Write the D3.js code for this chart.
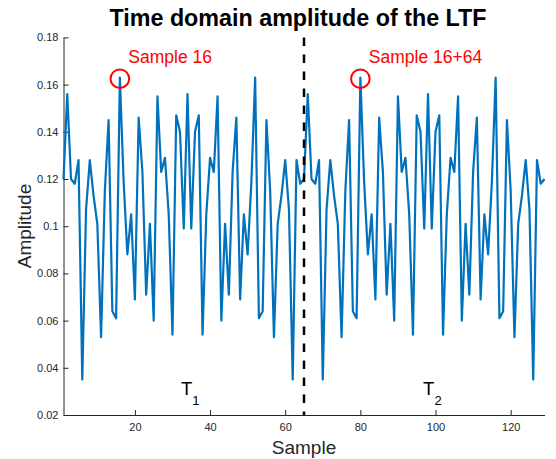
<!DOCTYPE html>
<html><head><meta charset="utf-8">
<script src="https://cdn.jsdelivr.net/npm/d3@7"></script>
<style>body{margin:0;background:#fff;} svg{display:block;font-family:"Liberation Sans",Arial,sans-serif;}</style>
</head><body>
<svg id="c" width="556" height="459"></svg>
<script>
// Amplitude of LTF samples 1..129
const amplitude = [
 0.120,
 0.156,0.120,0.118,0.128,0.035,0.107,0.128,0.113,0.101,0.053,0.115,0.145,0.064,0.061,0.163,0.119,
 0.088,0.105,0.069,0.146,0.123,0.071,0.101,0.060,0.155,0.123,0.129,0.105,0.054,0.147,0.140,0.099,
 0.156,0.099,0.140,0.147,0.054,0.105,0.129,0.123,0.155,0.060,0.101,0.071,0.123,0.146,0.069,0.105,
 0.088,0.119,0.163,0.061,0.064,0.145,0.115,0.053,0.101,0.113,0.128,0.107,0.035,0.128,0.118,0.120,
 0.156,0.120,0.118,0.128,0.035,0.107,0.128,0.113,0.101,0.053,0.115,0.145,0.064,0.061,0.163,0.119,
 0.088,0.105,0.069,0.146,0.123,0.071,0.101,0.060,0.155,0.123,0.129,0.105,0.054,0.147,0.140,0.099,
 0.156,0.099,0.140,0.147,0.054,0.105,0.129,0.123,0.155,0.060,0.101,0.071,0.123,0.146,0.069,0.105,
 0.088,0.119,0.163,0.061,0.064,0.145,0.115,0.053,0.101,0.113,0.128,0.107,0.035,0.128,0.118,0.120
];
const xTicks = [20,40,60,80,100,120];
const yTicks = [0.02,0.04,0.06,0.08,0.1,0.12,0.14,0.16,0.18];
const xDomain = [1,129];
const yDomain = [0.02,0.18];
const divider = 65;
const markers = [{x:16, y:0.1625, label:"Sample 16"},{x:80, y:0.1625, label:"Sample 16+64"}];
const periods = [{x:32.25, sub:"1"},{x:96.7, sub:"2"}];
const titleText = "Time domain amplitude of the LTF";

const svg = d3.select("#c");
const x = d3.scaleLinear().domain(xDomain).range([63.5,544.5]);
const y = d3.scaleLinear().domain(yDomain).range([415,37.4]);
const axisColor = "#262626";

// axes
const gx = svg.append("g").attr("transform","translate(0,415)")
  .call(d3.axisBottom(x).tickValues(xTicks).tickSizeInner(-5).tickSizeOuter(0).tickPadding(8));
const gy = svg.append("g").attr("transform","translate(63.5,0)")
  .call(d3.axisLeft(y).tickValues(yTicks).tickSizeInner(-5).tickSizeOuter(0).tickPadding(5)
    .tickFormat(d=>d3.format("")(+d.toFixed(2))));
[gx,gy].forEach(g=>{
  g.select(".domain").attr("stroke",axisColor).attr("stroke-width",1);
  g.selectAll(".tick line").attr("stroke",axisColor);
  g.selectAll(".tick text").attr("fill",axisColor).style("font-size","11px")
   .style("font-family","'Liberation Sans',Arial,sans-serif");
});
gx.selectAll(".tick text").attr("dy","0.71em");

// data line
const line = d3.line().x((d,i)=>x(i+1)).y(d=>y(d));
svg.append("path").datum(amplitude).attr("d",line)
  .attr("fill","none").attr("stroke","#0072BD").attr("stroke-width",2.2).attr("stroke-linejoin","round");

// divider
svg.append("line").attr("x1",x(divider)).attr("x2",x(divider)).attr("y1",y(yDomain[1])).attr("y2",y(yDomain[0]))
  .attr("stroke","#000").attr("stroke-width",2.5).attr("stroke-dasharray","8.5,8.5");

// markers
markers.forEach(m=>{
  svg.append("circle").attr("cx",x(m.x)).attr("cy",y(m.y)).attr("r",9.3)
    .attr("fill","none").attr("stroke","#ff0000").attr("stroke-width",2);
  svg.append("text").attr("x",x(m.x)+8.5).attr("y",y(m.y)-16).text(m.label)
    .attr("fill","#ff0000").style("font-size","17.5px");
});

// period labels
periods.forEach(p=>{
  const t = svg.append("text").attr("x",x(p.x)).attr("y",395).attr("text-anchor","start").attr("fill","#000")
    .style("font-size","18.5px");
  t.append("tspan").text("T");
  t.append("tspan").text(p.sub).attr("dy",10).style("font-size","13px");
});

// title
svg.append("text").attr("x",298).attr("y",26).attr("text-anchor","middle")
  .style("font-size","23.3px").style("font-weight","bold").attr("fill","#000").text(titleText);

// axis labels
svg.append("text").attr("x",304).attr("y",454).attr("text-anchor","middle").attr("fill",axisColor)
  .style("font-size","19px").text("Sample");
svg.append("text").attr("transform","translate(31,226) rotate(-90)").attr("text-anchor","middle").attr("fill",axisColor)
  .style("font-size","19px").text("Amplitude");
</script>
</body></html>
